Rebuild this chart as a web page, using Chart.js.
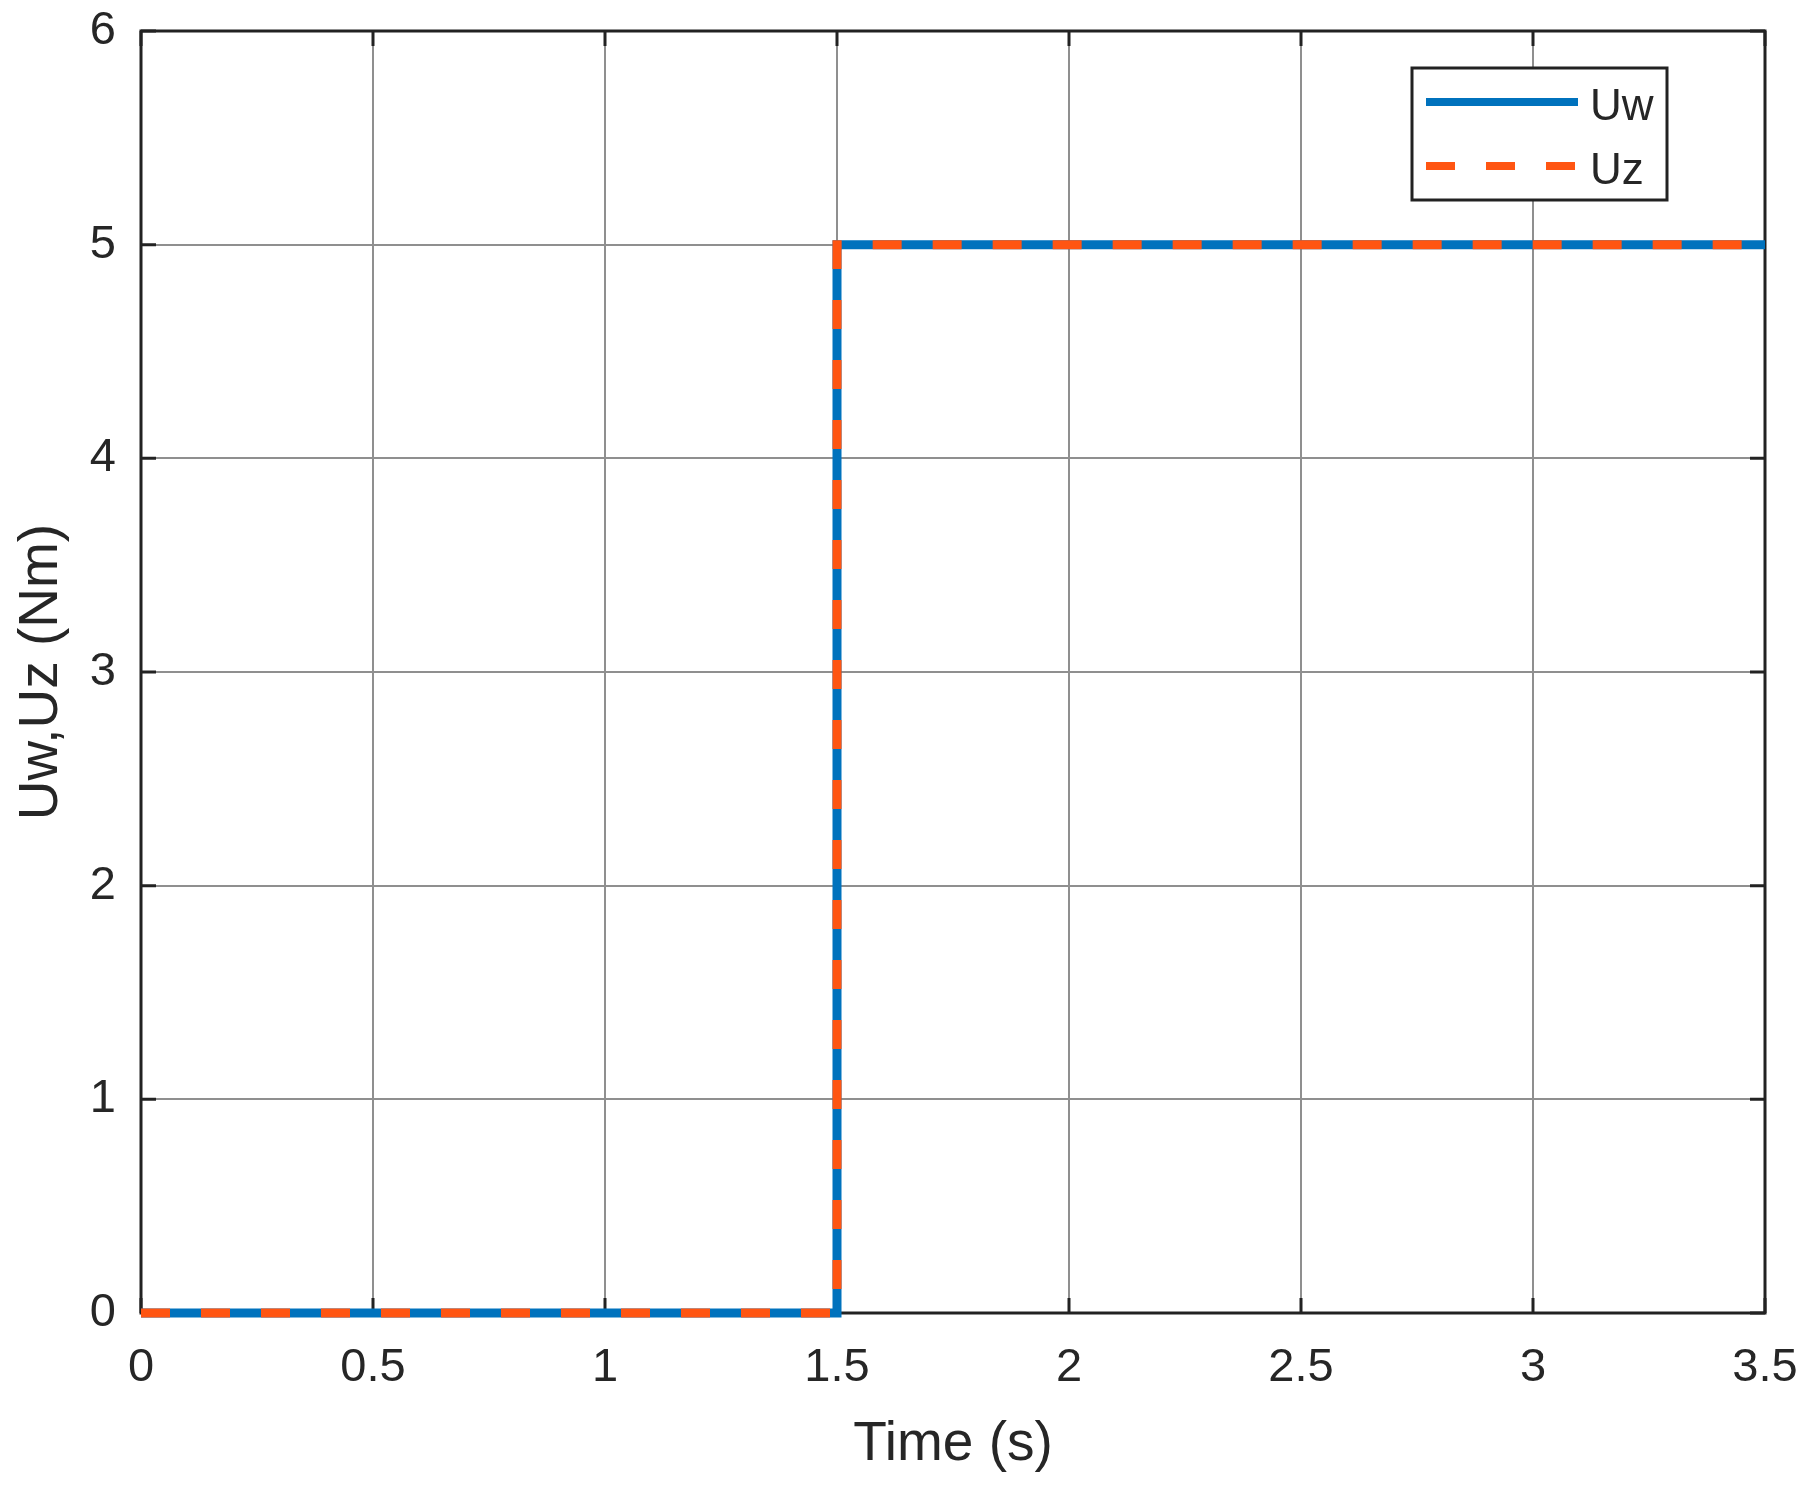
<!DOCTYPE html>
<html lang="en">
<head>
  <meta charset="UTF-8" />
  <title>Uw, Uz step</title>
  <script src="https://cdn.jsdelivr.net/npm/chart.js"></script>
  <style>
    html, body { margin: 0; padding: 0; background: #fff; }
    canvas { display: block; }
  </style>
</head>
<body>
  <canvas id="chart" width="1812" height="1492"></canvas>
  <script>
    // data
    const timeUw = [0, 1.5, 1.5, 3.5];
    const valUw = [0, 0, 5, 5];
    const timeUz = [0, 1.5, 1.5, 3.5];
    const valUz = [0, 0, 5, 5];
    const xTicks = [0, 0.5, 1, 1.5, 2, 2.5, 3, 3.5];
    const yTicks = [0, 1, 2, 3, 4, 5, 6];

    const blue = "#0072BD";
    const orange = "#FF5512";
    const ink = "#262626";
    const font = "'Liberation Sans', Arial, sans-serif";

    const pts = (xs, ys) => xs.map((x, i) => ({ x: x, y: ys[i] }));

    // box, inward ticks (under the lines) and legend (on top), matlab style
    const matlabBox = {
      id: "matlabBox",
      beforeDatasetsDraw(chart) {
        const { ctx, chartArea: a, scales } = chart;
        const tl = 15;
        ctx.save();
        ctx.strokeStyle = "#222";
        ctx.lineWidth = 3;
        ctx.beginPath();
        xTicks.forEach(v => {
          const px = scales.x.getPixelForValue(v);
          ctx.moveTo(px, a.bottom); ctx.lineTo(px, a.bottom - tl);
          ctx.moveTo(px, a.top); ctx.lineTo(px, a.top + tl);
        });
        yTicks.forEach(v => {
          const py = scales.y.getPixelForValue(v);
          ctx.moveTo(a.left, py); ctx.lineTo(a.left + tl, py);
          ctx.moveTo(a.right, py); ctx.lineTo(a.right - tl, py);
        });
        ctx.stroke();
        ctx.strokeRect(a.left, a.top, a.right - a.left, a.bottom - a.top);
        ctx.restore();
      },
      afterDatasetsDraw(chart) {
        const ctx = chart.ctx;
        const lx = 1412, ly = 68, lw = 255, lh = 132;
        ctx.save();
        ctx.fillStyle = "#fff";
        ctx.fillRect(lx, ly, lw, lh);
        ctx.strokeStyle = "#222";
        ctx.lineWidth = 3;
        ctx.strokeRect(lx, ly, lw, lh);
        ctx.font = "44px " + font;
        ctx.textBaseline = "middle";
        ctx.textAlign = "left";
        chart.data.datasets.slice().reverse().forEach((ds, i) => {
          const y = ly + 34 + i * 64;
          ctx.strokeStyle = ds.borderColor;
          ctx.lineWidth = 8;
          ctx.setLineDash(ds.borderDash || []);
          ctx.beginPath();
          ctx.moveTo(lx + 14, y);
          ctx.lineTo(lx + 166, y);
          ctx.stroke();
          ctx.setLineDash([]);
          ctx.fillStyle = ink;
          ctx.fillText(ds.label, lx + 178, y + 6);
        });
        ctx.restore();
      }
    };

    new Chart(document.getElementById("chart"), {
      type: "scatter",
      data: {
        datasets: [
          {
            label: "Uz",
            data: pts(timeUz, valUz),
            showLine: true,
            borderColor: orange,
            borderWidth: 9,
            borderDash: [29, 31],
            pointRadius: 0,
            clip: 10,
            order: 0
          },
          {
            label: "Uw",
            data: pts(timeUw, valUw),
            showLine: true,
            borderColor: blue,
            borderWidth: 9,
            pointRadius: 0,
            clip: 10,
            order: 1
          }
        ]
      },
      options: {
        responsive: false,
        animation: false,
        layout: { padding: { top: 31, right: 47, left: 0, bottom: 0 } },
        plugins: {
          legend: { display: false },
          tooltip: { enabled: false }
        },
        scales: {
          x: {
            type: "linear",
            min: 0,
            max: 3.5,
            afterBuildTicks: s => { s.ticks = xTicks.map(v => ({ value: v })); },
            afterFit: s => { s.height = 179; s.paddingLeft = 0; s.paddingRight = 0; },
            grid: { color: "#8f8f8f", lineWidth: 2, drawTicks: false },
            border: { display: false },
            ticks: { color: ink, font: { size: 47, family: font }, padding: 27, maxRotation: 0, callback: v => String(v) },
            title: { display: true, text: "Time (s)", color: ink, font: { size: 55, family: font }, padding: { top: 0, bottom: 14 } }
          },
          y: {
            type: "linear",
            min: 0,
            max: 6,
            afterBuildTicks: s => { s.ticks = yTicks.map(v => ({ value: v })); },
            afterFit: s => { s.width = 141; s.paddingTop = 0; s.paddingBottom = 0; },
            grid: { color: "#8f8f8f", lineWidth: 2, drawTicks: false },
            border: { display: false },
            ticks: { color: ink, font: { size: 47, family: font }, padding: 25, callback: v => String(v) },
            title: { display: true, text: "Uw,Uz (Nm)", color: ink, font: { size: 55, family: font }, padding: { top: 9, bottom: 0 } }
          }
        }
      },
      plugins: [matlabBox]
    });
  </script>
</body>
</html>
